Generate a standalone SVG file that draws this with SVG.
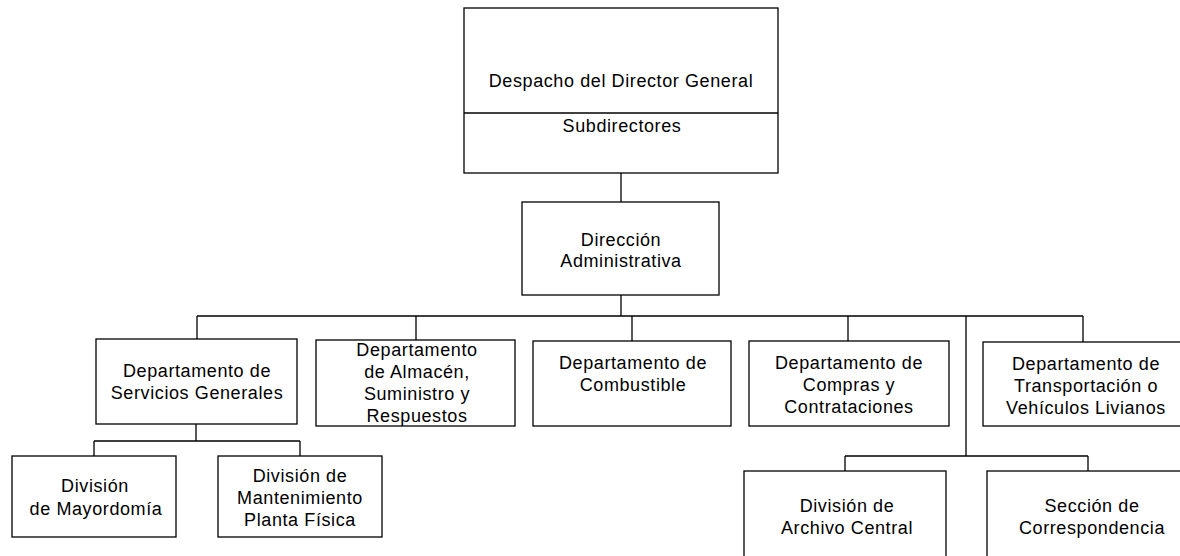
<svg xmlns="http://www.w3.org/2000/svg" width="1180" height="556" viewBox="0 0 1180 556">
<style>
.box{fill:#fff;stroke:#000;stroke-width:1.3}
.ln{fill:none;stroke:#000;stroke-width:1.3}
text{font-family:"Liberation Sans",Arial,sans-serif;font-size:18px;fill:#000;text-anchor:middle;letter-spacing:0.6px}
</style>
<rect width="1180" height="556" fill="#fff"/>
<g id="connectors" class="ln">
<path d="M621 173V202M621 295V316M197 316H1083M197 316V339M416 316V340M632 316V341M848 316V341M1083 316V342"/>
<path d="M966 316V456M845 456H1088M845 456V471M1088 456V471"/>
<path d="M196 424V441M94 441H300M94 441V456M300 441V456"/>
</g>
<g id="director">
<rect class="box" x="464" y="8" width="314" height="165"/>
<line class="ln" x1="464" y1="113" x2="778" y2="113"/>
<text x="621" y="87">Despacho del Director General</text>
<text x="622" y="132">Subdirectores</text>
</g>
<g id="direccion">
<rect class="box" x="522" y="202" width="197" height="93"/>
<text x="621" y="246">Dirección</text>
<text x="621" y="267">Administrativa</text>
</g>
<g id="servicios">
<rect class="box" x="96" y="339" width="201" height="85"/>
<text x="197" y="377">Departamento de</text>
<text x="197" y="399">Servicios Generales</text>
</g>
<g id="almacen">
<rect class="box" x="316" y="340" width="199" height="86"/>
<text x="417" y="356">Departamento</text>
<text x="417" y="378">de Almacén,</text>
<text x="417" y="400">Suministro y</text>
<text x="417" y="422">Respuestos</text>
</g>
<g id="combustible">
<rect class="box" x="533" y="341" width="198" height="85"/>
<text x="633" y="369">Departamento de</text>
<text x="633" y="391">Combustible</text>
</g>
<g id="compras">
<rect class="box" x="749" y="341" width="200" height="85"/>
<text x="849" y="369">Departamento de</text>
<text x="849" y="391">Compras y</text>
<text x="849" y="413">Contrataciones</text>
</g>
<g id="transportacion">
<rect class="box" x="983" y="342" width="200" height="84"/>
<text x="1086" y="370">Departamento de</text>
<text x="1086" y="392">Transportación o</text>
<text x="1086" y="414">Vehículos Livianos</text>
</g>
<g id="mayordomia">
<rect class="box" x="12" y="456" width="164" height="81"/>
<text x="95" y="492">División</text>
<text x="96" y="515">de Mayordomía</text>
</g>
<g id="mantenimiento">
<rect class="box" x="218" y="456" width="164" height="81"/>
<text x="300" y="482">División de</text>
<text x="300" y="504">Mantenimiento</text>
<text x="300" y="526">Planta Física</text>
</g>
<g id="archivo">
<rect class="box" x="744" y="471" width="202" height="92"/>
<text x="847" y="512">División de</text>
<text x="847" y="534">Archivo Central</text>
</g>
<g id="correspondencia">
<rect class="box" x="987" y="471" width="196" height="92"/>
<text x="1092" y="512">Sección de</text>
<text x="1092" y="534">Correspondencia</text>
</g>
</svg>
